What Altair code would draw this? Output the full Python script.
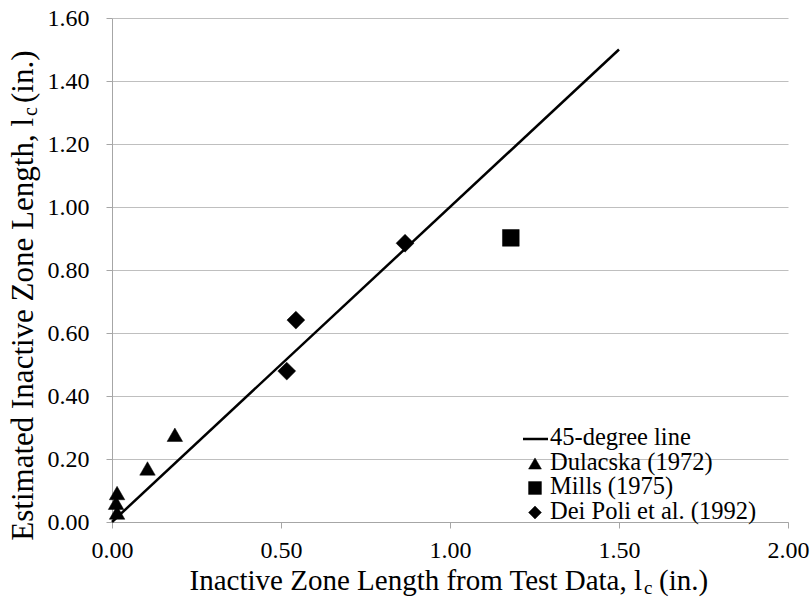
import altair as alt
import pandas as pd

# ---- data ----
dul_x = [0.015, 0.012, 0.015, 0.105, 0.186]
dul_y = [0.092, 0.061, 0.030, 0.170, 0.277]
mills_x = [1.18]
mills_y = [0.902]
dei_x = [0.517, 0.544, 0.867]
dei_y = [0.479, 0.641, 0.885]
line_x = [0.0, 1.5]
line_y = [0.0, 1.5]

series_names = ["45-degree line", "Dulacska (1972)", "Mills (1975)", "Dei Poli et al. (1992)"]
shape_range = ["stroke", "triangle-up", "square", "diamond"]
size_range = [200, 320, 200, 260]
x_ticks = [0.0, 0.5, 1.0, 1.5, 2.0]
y_ticks = [0.0, 0.2, 0.4, 0.6, 0.8, 1.0, 1.2, 1.4, 1.6]

FONT = "Liberation Serif, Times New Roman, serif"

pts = pd.DataFrame({
    "x": dul_x + mills_x + dei_x,
    "y": dul_y + mills_y + dei_y,
    "series": [series_names[1]] * len(dul_x) + [series_names[2]] * len(mills_x) + [series_names[3]] * len(dei_x),
})
line_df = pd.DataFrame({"x": line_x, "y": line_y})

x_scale = alt.Scale(domain=[0, 2], nice=False, zero=False)
y_scale = alt.Scale(domain=[0, 1.6], nice=False, zero=False)

x_enc = alt.X("x:Q", scale=x_scale,
              axis=alt.Axis(values=x_ticks, format=".2f", title=None, grid=False,
                            labelPadding=10, labelFlush=False, labelOverlap=False))
y_enc = alt.Y("y:Q", scale=y_scale,
              axis=alt.Axis(values=y_ticks, format=".2f", title=None, grid=True,
                            labelPadding=17, labelOverlap=False))

line = alt.Chart(line_df).mark_line(color="black", strokeWidth=2.5).encode(x=x_enc, y=y_enc)

points = alt.Chart(pts).mark_point(
    filled=True, fill="black", stroke="black", strokeWidth=0.5, opacity=1
).encode(
    x="x:Q",
    y="y:Q",
    shape=alt.Shape("series:N", scale=alt.Scale(domain=series_names, range=shape_range), legend=None),
    size=alt.Size("series:N", scale=alt.Scale(domain=series_names, range=size_range), legend=None),
)

one = pd.DataFrame({"t": [0]})


def txt(s, x, y, size, angle=0, align="left", baseline="alphabetic"):
    return alt.Chart(one).mark_text(
        text=s, font=FONT, fontSize=size, color="black", angle=angle,
        align=align, baseline=baseline,
    ).encode(x=alt.value(x), y=alt.value(y))


# ---- legend (drawn by hand, in pixel positions of the plot area) ----
leg_rows = [420, 444.5, 469, 493.5]
leg_layers = []
leg_layers.append(
    alt.Chart(one).mark_rule(color="black", strokeWidth=2.5).encode(
        x=alt.value(411), x2=alt.value(436), y=alt.value(leg_rows[0] + 1)
    )
)
for i in range(1, 4):
    leg_layers.append(
        alt.Chart(one).mark_point(
            shape=shape_range[i], filled=True, fill="black", stroke="black",
            strokeWidth=0.5, opacity=1, size=165,
        ).encode(x=alt.value(423), y=alt.value(leg_rows[i] + 1))
    )
for i in range(4):
    leg_layers.append(txt(series_names[i], 438, leg_rows[i], 24.5, baseline="middle"))

# x-axis title with subscript
xt1 = txt("Inactive Zone Length from Test Data, l", 530, 572, 29, align="right")
xt2 = txt("c", 532, 576, 19)
xt3 = txt("(in.)", 547, 572, 29)
# y-axis title with subscript (rotated)
yt1 = txt("Estimated Inactive Zone Length, l", -79, 100, 31, angle=270, align="right")
yt2 = txt("c", -75, 98, 20, angle=270)
yt3 = txt("(in.)", -79, 85, 31, angle=270)

chart = alt.layer(line, points, xt1, xt2, xt3, yt1, yt2, yt3, *leg_layers).properties(
    width=676, height=504,
    background="white",
    autosize=alt.AutoSizeParams(type="none"),
    padding={"left": 112, "top": 18, "right": 22, "bottom": 81},
).configure_view(stroke=None).configure_axis(
    labelFont=FONT, labelFontSize=24, labelColor="black",
    domainColor="#a6a6a6", tickColor="#a6a6a6", tickSize=6,
    gridColor="#bfbfbf", gridWidth=1, domainWidth=1,
)

chart.save("out.html", embed_options={"renderer": "svg", "actions": False})
